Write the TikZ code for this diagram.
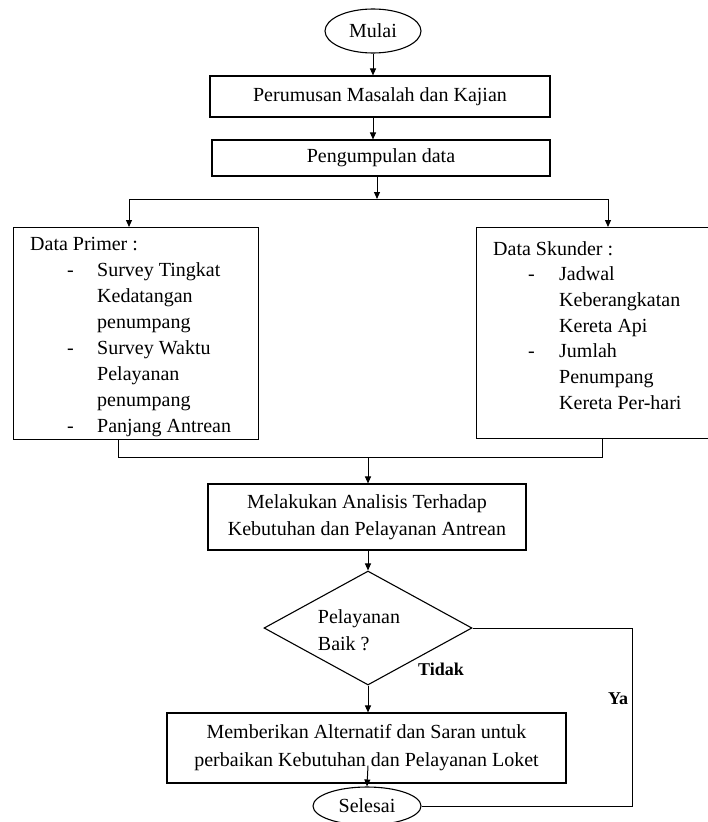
\documentclass[tikz,border=0pt]{standalone}
\usepackage{fontspec}
\setmainfont{Liberation Serif}
\usetikzlibrary{shapes.geometric,arrows.meta,calc}
\begin{document}
\begin{tikzpicture}[x=1pt,y=-1pt,
  every node/.style={font=\fontsize{20}{27}\selectfont},
  box/.style={draw, line width=1.1pt, rectangle, inner sep=0pt},
  arr/.style={-{Triangle[length=7pt,width=6pt]}, line width=1pt},
  ln/.style={line width=1pt},
  txt/.style={anchor=base west, inner sep=0pt},
  lbl/.style={anchor=base west, inner sep=0pt, font=\fontsize{18}{20}\selectfont\bfseries}
]
\useasboundingbox (0,0) rectangle (708,822);

% top chain
\node[box, ellipse, minimum width=96, minimum height=44] (mulai) at (373,31) {Mulai};
\node[box, minimum width=340, minimum height=41] (r1) at (380,96.5) {Perumusan Masalah dan Kajian};
\node[box, minimum width=338, minimum height=36] (r2) at (381,158) {Pengumpulan data};
\draw[arr] (mulai.south) -- (mulai.south |- r1.north);
\draw[arr] (r1.south -| mulai.south) -- (r2.north -| mulai.south);

% split
\coordinate (split) at (377,199);
\coordinate (sL) at (129,199);
\coordinate (sR) at (608,199);
\node[box, anchor=north west, minimum width=245, minimum height=212] (primer) at (13,227) {};
\node[box, anchor=north west, minimum width=240, minimum height=211] (skunder) at (476,227) {};
\draw[arr] (r2.south -| split) -- (split);
\draw[ln] (sL) -- (sR);
\draw[arr] (sL) -- (sL |- primer.north);
\draw[arr] (sR) -- (sR |- skunder.north);

% primer text
\node[txt] (p1) at (30,250) {Data Primer :};
\foreach \y/\n in {276/2,354/5,432/8} \node[txt] (pd\n) at (67,\y) {-};
\foreach \t/\y/\n in {Survey Tingkat/276/2, Kedatangan/302/3, penumpang/328/4, Survey Waktu/354/5, Pelayanan/380/6, penumpang/406/7, Panjang Antrean/432/8}
  \node[txt] (p\n) at (97,\y) {\t};

% skunder text
\node[txt] (s1) at (493,255) {Data Skunder :};
\foreach \y/\n in {280.7/2,357.8/5} \node[txt] (sd\n) at (528,\y) {-};
\foreach \t/\y/\n in {Jadwal/280.7/2, Keberangkatan/306.4/3, Kereta Api/332.1/4, Jumlah/357.8/5, Penumpang/383.5/6, Kereta Per-hari/409.2/7}
  \node[txt] (s\n) at (559,\y) {\t};

% merge
\node[box, minimum width=318, minimum height=66, align=center] (r3) at (367,517) {Melakukan Analisis Terhadap\\Kebutuhan dan Pelayanan Antrean};
\coordinate (mL) at (118,457);
\coordinate (mR) at (602,457);
\coordinate (mC) at (368,457);
\draw[ln] (mL |- primer.south) -- (mL) -- (mR) -- (mR |- skunder.south);
\draw[arr] (mC) -- (mC |- r3.north);

% decision
\node[box, diamond, minimum width=208, minimum height=114] (dec) at (368,628) {};
\node[align=left, inner sep=0pt] (dectext) at (359,630) {Pelayanan\\Baik ?};
\draw[arr] (r3.south -| dec.north) -- (dec.north);
\node[lbl] (tidak) at (418,675) {Tidak};
\node[lbl] (ya) at (608,704) {Ya};

% bottom
\node[box, minimum width=399, minimum height=70, align=center, font=\fontsize{20}{28}\selectfont] (r4) at (366.5,748) {Memberikan Alternatif dan Saran untuk\\perbaikan Kebutuhan dan Pelayanan Loket};
\node[box, ellipse, minimum width=108, minimum height=38] (selesai) at (367,806) {Selesai};
\draw[arr] (dec.south) -- (dec.south |- r4.north);
\draw[arr] ($(r4.south)+(1.5,-18)$) -- (selesai.north);

% Ya loop
\coordinate (yc) at (632,628);
\draw[ln] (dec.east) -- (yc) -- (yc |- selesai.east) -- (selesai.east);
\end{tikzpicture}
\end{document}
